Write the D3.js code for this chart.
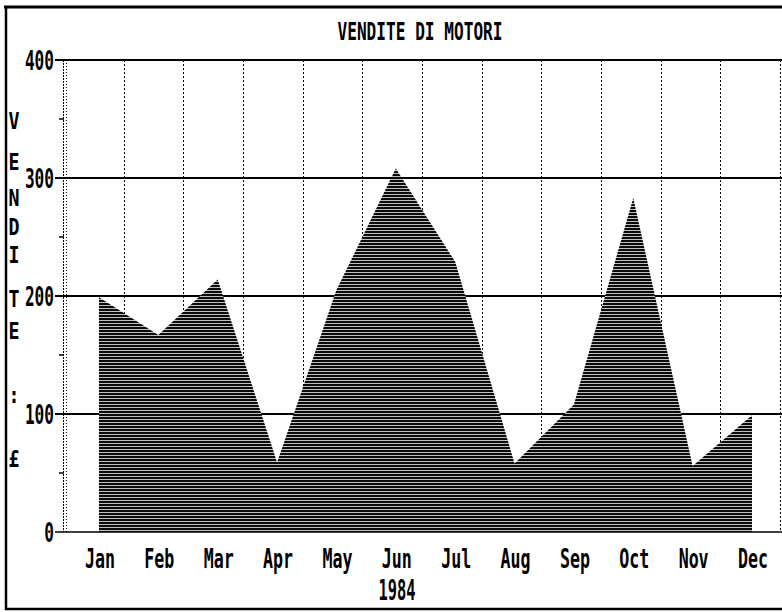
<!DOCTYPE html>
<html>
<head>
<meta charset="utf-8">
<script src="https://cdn.jsdelivr.net/npm/d3@7"></script>
<style>
  html, body { margin: 0; padding: 0; background: #fff; }
  svg { display: block; }
  text { font-family: "DejaVu Sans Mono", monospace; font-weight: bold; fill: #000; }
</style>
</head>
<body>
<div id="draw-here"></div>
<script>
// data
var months = ["Jan", "Feb", "Mar", "Apr", "May", "Jun", "Jul", "Aug", "Sep", "Oct", "Nov", "Dec"];
var sales = [199, 167, 214, 59, 205, 308, 229, 58, 108, 283, 56, 99];
var yTicks = [0, 100, 200, 300, 400];
var yMinor = [50, 150, 250, 350];
var title = "VENDITE DI MOTORI";
var yearLabel = "1984";
var yLabel = ["V", "E", "N", "D", "I", "T", "E", ":", "£"];

var W = 782, H = 612;

var svg = d3.select('#draw-here').append('svg')
    .attr('width', W)
    .attr('height', H);

svg.append('rect').attr('width', W).attr('height', H).attr('fill', '#fff');

// horizontal line hatch, like the old plotter fill
var defs = svg.append('defs');
var pat = defs.append('pattern')
    .attr('id', 'hatch')
    .attr('patternUnits', 'userSpaceOnUse')
    .attr('width', 8)
    .attr('height', 3);
pat.append('rect').attr('width', 8).attr('height', 3).attr('fill', '#c0c0c0');
pat.append('rect').attr('width', 8).attr('height', 2).attr('fill', '#0a0a0a');

var y = d3.scaleLinear().domain([0, 400]).range([532, 60]);
var x = d3.scalePoint().domain(months).range([99, 752]);
// the grid columns don't line up exactly with the points
var gx = d3.scaleLinear().domain([0, 12]).range([64, 780]);

// frame (right side runs off the picture)
var frame = svg.append('g').attr('stroke', '#000').attr('fill', 'none');
frame.append('line').attr('x1', 4).attr('x2', W).attr('y1', 7).attr('y2', 7).attr('stroke-width', 3);
frame.append('line').attr('x1', 6).attr('x2', 6).attr('y1', 6).attr('y2', 610).attr('stroke-width', 2.5);
frame.append('line').attr('x1', 5).attr('x2', W).attr('y1', 609).attr('y2', 609).attr('stroke-width', 2.5);

// title
svg.append('text')
    .attr('x', 420).attr('y', 40)
    .attr('text-anchor', 'middle')
    .attr('font-size', 24)
    .attr('textLength', 165).attr('lengthAdjust', 'spacingAndGlyphs')
    .text(title);

// vertical dotted grid
var grid = svg.append('g');
grid.selectAll('line.v')
  .data(d3.range(1, 13))
  .enter().append('line')
    .attr('class', 'v')
    .attr('x1', function(d) { return Math.round(gx(d)) + 0.5; })
    .attr('x2', function(d) { return Math.round(gx(d)) + 0.5; })
    .attr('y1', y(400)).attr('y2', y(0))
    .attr('stroke', '#000')
    .attr('stroke-width', 1)
    .attr('stroke-dasharray', '2,2');

// left axis: doubled dotted line
[63.5, 66.5].forEach(function(px, i) {
  grid.append('line')
      .attr('x1', px).attr('x2', px)
      .attr('y1', y(400)).attr('y2', y(0))
      .attr('stroke', '#000')
      .attr('stroke-width', 1)
      .attr('stroke-dasharray', i ? '1,2' : '2,1');
});

// horizontal grid + ticks
grid.selectAll('line.h')
  .data(yTicks)
  .enter().append('line')
    .attr('class', 'h')
    .attr('x1', 55).attr('x2', W)
    .attr('y1', function(d) { return y(d); })
    .attr('y2', function(d) { return y(d); })
    .attr('stroke', '#000')
    .attr('stroke-width', function(d) { return d === 0 ? 1.5 : 2; });

grid.selectAll('line.minor')
  .data(yMinor)
  .enter().append('line')
    .attr('class', 'minor')
    .attr('x1', 59).attr('x2', 64)
    .attr('y1', function(d) { return y(d); })
    .attr('y2', function(d) { return y(d); })
    .attr('stroke', '#000')
    .attr('stroke-width', 1.5);

svg.selectAll('text.ytick')
  .data(yTicks)
  .enter().append('text')
    .attr('class', 'ytick')
    .attr('x', 54)
    .attr('y', function(d) { return y(d) + 9.5; })
    .attr('text-anchor', 'end')
    .attr('font-size', 26)
    .attr('textLength', function(d) { return String(d).length * 9.7; })
    .attr('lengthAdjust', 'spacingAndGlyphs')
    .text(function(d) { return d; });

// the hatched area
var area = d3.area()
    .x(function(d, i) { return x(months[i]); })
    .y0(y(0))
    .y1(function(d) { return y(d); });

svg.append('path')
    .datum(sales)
    .attr('d', area)
    .attr('fill', 'url(#hatch)');

// month labels
svg.selectAll('text.month')
  .data(months)
  .enter().append('text')
    .attr('class', 'month')
    .attr('x', function(d) { return x(d) + 1; })
    .attr('y', 568)
    .attr('text-anchor', 'middle')
    .attr('font-size', 27)
    .attr('textLength', 30).attr('lengthAdjust', 'spacingAndGlyphs')
    .text(function(d) { return d; });

svg.append('text')
    .attr('x', 397).attr('y', 600)
    .attr('text-anchor', 'middle')
    .attr('font-size', 28)
    .attr('textLength', 37).attr('lengthAdjust', 'spacingAndGlyphs')
    .text(yearLabel);

// vertical axis title, one letter per row
var letterY = [120, 161, 197, 226, 254, 298, 330, 394, 458];
svg.selectAll('text.ylab')
  .data(yLabel)
  .enter().append('text')
    .attr('class', 'ylab')
    .attr('x', 14)
    .attr('y', function(d, i) { return letterY[i] + 8.5; })
    .attr('text-anchor', 'middle')
    .attr('font-size', 23)
    .attr('textLength', 11).attr('lengthAdjust', 'spacingAndGlyphs')
    .text(function(d) { return d; });
</script>
</body>
</html>
